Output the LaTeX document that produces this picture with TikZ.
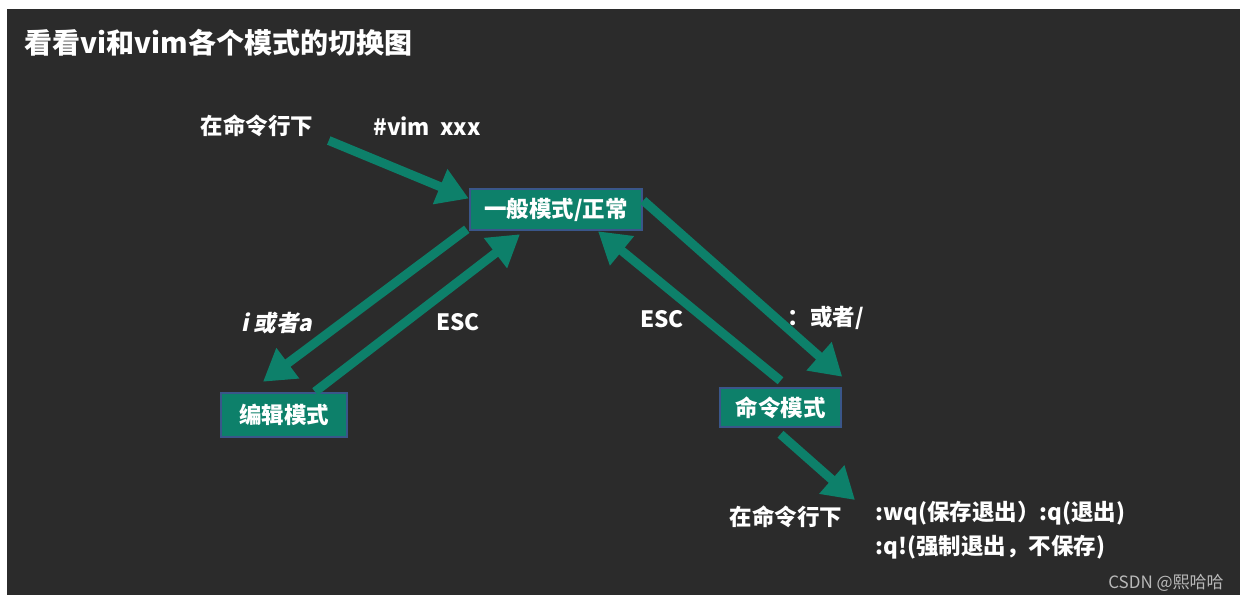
\documentclass[tikz,border=0pt]{standalone}
\usepackage{fontspec}
\setmainfont{Noto Sans CJK SC}
\newfontfamily\slantcjk{Noto Sans CJK SC}[FakeSlant=0.2, BoldFeatures={FakeSlant=0.2}]
\usetikzlibrary{arrows.meta}
\definecolor{board}{RGB}{43,43,43}
\definecolor{vimgreen}{RGB}{13,128,106}
\definecolor{vimblue}{RGB}{58,86,138}
\definecolor{wmgray}{RGB}{185,185,185}
\begin{document}
\begin{tikzpicture}[x=1pt, y=-1pt, text=white, font=\fontsize{22.5}{27}\selectfont\bfseries]
	\useasboundingbox (0,0) rectangle (1247,602);
	\fill[white] (0,0) rectangle (1247,602);
	\fill[board] (7,9) rectangle (1240,595);
	\tikzset{
		modebox/.style={draw=vimblue, line width=2.5pt, fill=vimgreen, inner sep=0pt},
		jump/.style={draw=vimgreen, line width=9pt, -{Triangle[length=31pt,width=36pt]}}
	}
	\node[font=\fontsize{28}{32}\selectfont\bfseries, anchor=west] (title) at (21,43) {看看vi和vim各个模式的切换图};
	\node (shell) at (257,126) {在命令行下};
	\node (open) at (427,126) {\#vim\ \ xxx};
	\node[modebox, minimum width=172pt, minimum height=41pt] (normal) at (556,209.5) {一般模式/正常};
	\node[modebox, minimum width=126pt, minimum height=44pt] (edit) at (284,415) {编辑模式};
	\node[modebox, minimum width=121pt, minimum height=39pt] (cmd) at (780.5,407.5) {命令模式};
	\node[font=\fontsize{22.5}{27}\selectfont\slantcjk\bfseries] (insert) at (277,323) {i 或者a};
	\node (escl) at (458,322) {ESC};
	\node (escr) at (662,319) {ESC};
	\node (colon) at (826,318) {：或者/};
	\node (shell2) at (786,517) {在命令行下};
	\node[anchor=west] (wq) at (872,513) {:wq(保存退出）:q(退出)};
	\node[anchor=west] (qbang) at (872,547) {:q!(强制退出，不保存)};
	\node[text=wmgray, font=\fontsize{17}{20}\selectfont] (csdn) at (1166,583) {CSDN @熙哈哈};
	\coordinate (quit) at (855,500);
	\draw[jump] ([xshift=12pt]shell.south east) -- ([yshift=11pt]normal.west);
	\draw[jump] ([xshift=-2pt,yshift=2pt]normal.south west) -- ([xshift=-21pt,yshift=10pt]edit.north);
	\draw[jump] ([xshift=31pt]edit.north) -- ([xshift=-36pt,yshift=-3pt]normal.south);
	\draw[jump] ([yshift=6pt]cmd.north) -- ([xshift=42pt]normal.south);
	\draw[jump] ([yshift=9pt]normal.east) -- ([yshift=10pt]cmd.north east);
	\draw[jump] ([yshift=-6pt]cmd.south) -- (quit);
\end{tikzpicture}
\end{document}
